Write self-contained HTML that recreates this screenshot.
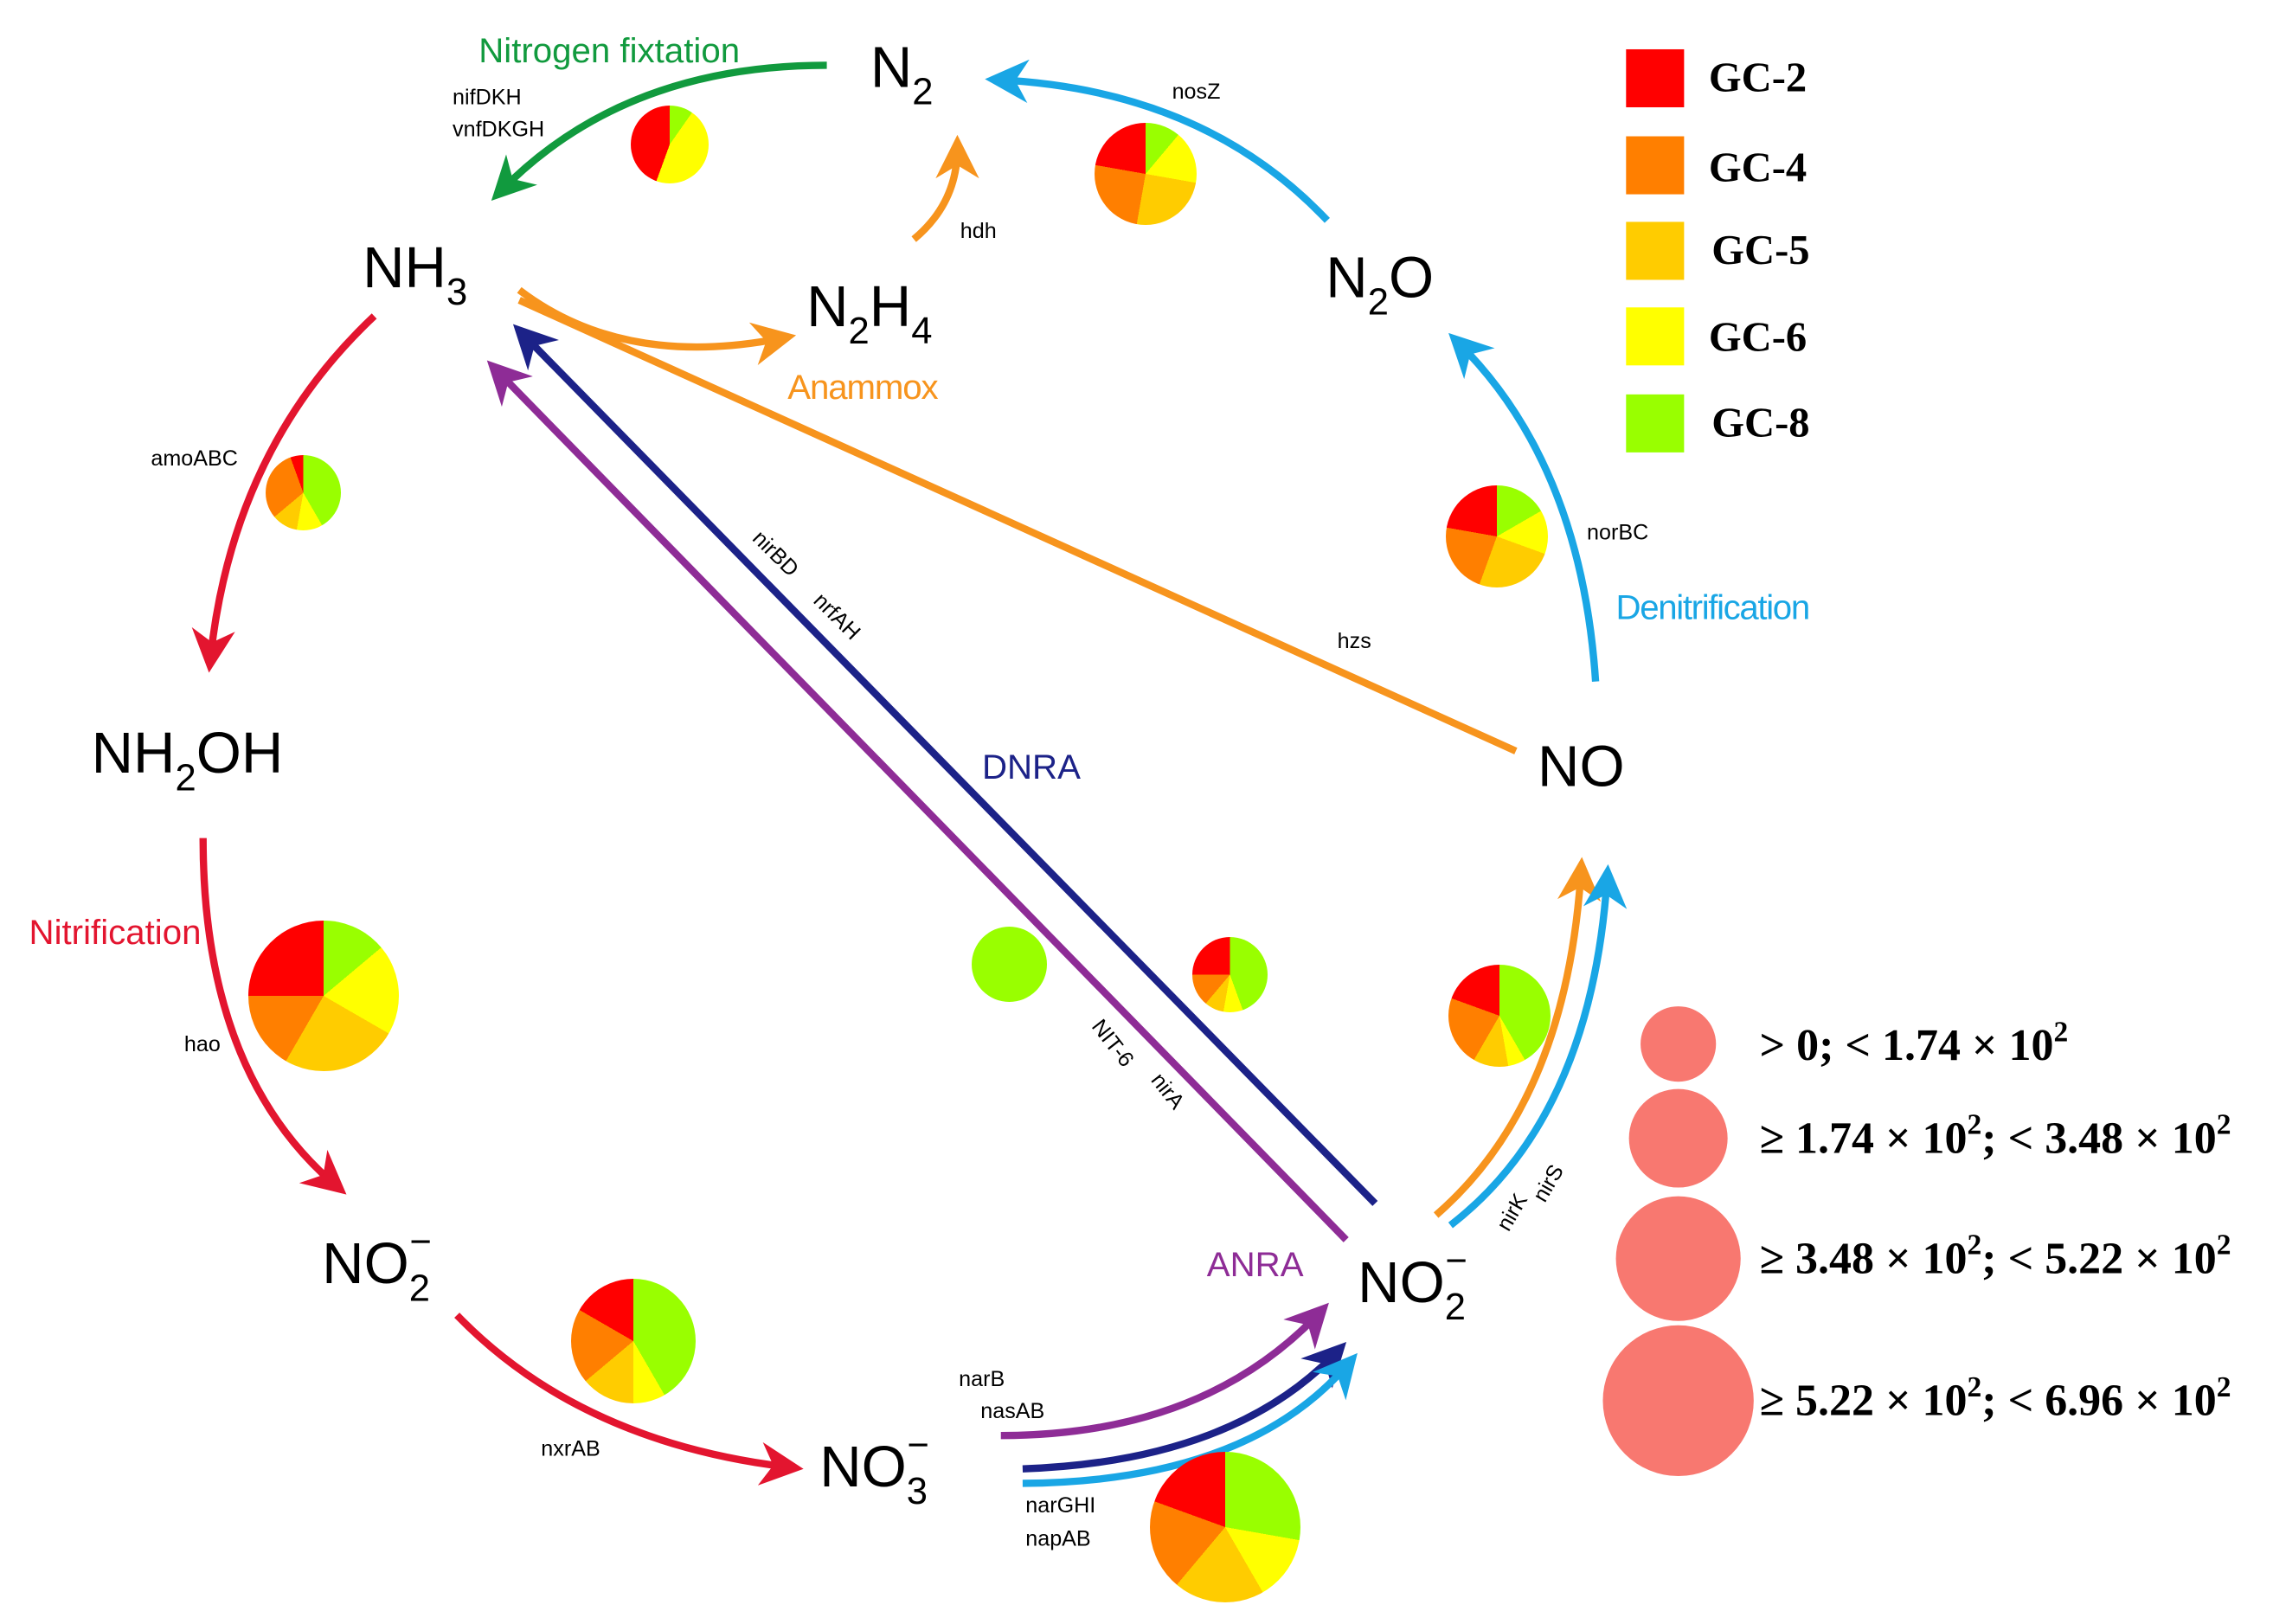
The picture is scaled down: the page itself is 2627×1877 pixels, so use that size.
<!DOCTYPE html>
<html><head><meta charset="utf-8"><style>
body{margin:0;background:#fff}
#c{position:relative;width:2627px;height:1877px;overflow:hidden;background:#fff}
svg{position:absolute;left:0;top:0}
.p{position:absolute;border-radius:50%}
</style></head><body><div id="c">
<svg width="2627" height="1877" viewBox="0 0 1567 1120" preserveAspectRatio="none" font-family="Liberation Sans, sans-serif">
<defs>
<marker id="mg" viewBox="0 0 10 10" refX="7" refY="5" markerWidth="6" markerHeight="6" orient="auto"><path d="M0,0 L10,5 L0,10 L3,5z" fill="#119a3e"/></marker>
<marker id="mb" viewBox="0 0 10 10" refX="7" refY="5" markerWidth="6" markerHeight="6" orient="auto"><path d="M0,0 L10,5 L0,10 L3,5z" fill="#19a6e5"/></marker>
<marker id="mo" viewBox="0 0 10 10" refX="7" refY="5" markerWidth="6" markerHeight="6" orient="auto"><path d="M0,0 L10,5 L0,10 L3,5z" fill="#f7941d"/></marker>
<marker id="mr" viewBox="0 0 10 10" refX="7" refY="5" markerWidth="6" markerHeight="6" orient="auto"><path d="M0,0 L10,5 L0,10 L3,5z" fill="#e3152f"/></marker>
<marker id="mp" viewBox="0 0 10 10" refX="7" refY="5" markerWidth="6" markerHeight="6" orient="auto"><path d="M0,0 L10,5 L0,10 L3,5z" fill="#8e2c96"/></marker>
<marker id="mn" viewBox="0 0 10 10" refX="7" refY="5" markerWidth="6" markerHeight="6" orient="auto"><path d="M0,0 L10,5 L0,10 L3,5z" fill="#1c2288"/></marker>
</defs>
<g fill="none" stroke-width="5">
<path d="M570,45 Q430,45 345,132" stroke="#119a3e" marker-end="url(#mg)"/>
<path d="M915,152 Q830,62 688,55" stroke="#19a6e5" marker-end="url(#mb)"/>
<path d="M630,165 Q660,140 660,102" stroke="#f7941d" marker-end="url(#mo)"/>
<path d="M358,200 Q430,255 540,233" stroke="#f7941d" marker-end="url(#mo)"/>
<path d="M358,207 L1045,518" stroke="#f7941d"/>
<path d="M1100,470 Q1090,320 1005,236" stroke="#19a6e5" marker-end="url(#mb)"/>
<path d="M258,218 Q160,310 145,455" stroke="#e3152f" marker-end="url(#mr)"/>
<path d="M140,578 Q140,740 232,818" stroke="#e3152f" marker-end="url(#mr)"/>
<path d="M315,907 Q400,995 545,1012" stroke="#e3152f" marker-end="url(#mr)"/>
<path d="M690,990 Q830,990 910,905" stroke="#8e2c96" marker-end="url(#mp)"/>
<path d="M705,1013 Q850,1008 922,932" stroke="#1c2288" marker-end="url(#mn)"/>
<path d="M705,1023 Q860,1022 930,940" stroke="#19a6e5" marker-end="url(#mb)"/>
<path d="M990,838 Q1080,760 1090,600" stroke="#f7941d" marker-end="url(#mo)"/>
<path d="M1000,845 Q1097,770 1108,605" stroke="#19a6e5" marker-end="url(#mb)"/>
<path d="M948,830 L360,230" stroke="#1c2288" marker-end="url(#mn)"/>
<path d="M928,855 L342,255" stroke="#8e2c96" marker-end="url(#mp)"/>
</g>
<g font-size="40" fill="#000">
<text x="600" y="60">N<tspan font-size="26" dy="12">2</tspan></text>
<text x="250" y="198">NH<tspan font-size="26" dy="12">3</tspan></text>
<text x="556" y="225">N<tspan font-size="26" dy="12">2</tspan><tspan dy="-12">H</tspan><tspan font-size="26" dy="12">4</tspan></text>
<text x="914" y="205">N<tspan font-size="26" dy="12">2</tspan><tspan dy="-12">O</tspan></text>
<text x="63" y="533">NH<tspan font-size="26" dy="12">2</tspan><tspan dy="-12">OH</tspan></text>
<text x="1060" y="542">NO</text>
<text x="222" y="885">NO<tspan font-size="26" dy="12">2</tspan><tspan font-size="26" dx="-14" dy="-32">−</tspan></text>
<text x="936" y="898">NO<tspan font-size="26" dy="12">2</tspan><tspan font-size="26" dx="-14" dy="-32">−</tspan></text>
<text x="565" y="1025">NO<tspan font-size="26" dy="12">3</tspan><tspan font-size="26" dx="-14" dy="-32">−</tspan></text>
</g>
<g font-size="24">
<text x="330" y="43" fill="#119a3e">Nitrogen fixtation</text>
<text x="543" y="275" fill="#f7941d" textLength="104">Anammox</text>
<text x="1114" y="427" fill="#19a6e5" textLength="134">Denitrification</text>
<text x="20" y="651" fill="#e3152f">Nitrification</text>
<text x="677" y="537" fill="#1c2288">DNRA</text>
<text x="832" y="880" fill="#8e2c96">ANRA</text>
</g>
<g font-size="15" fill="#000">
<text x="312" y="72">nifDKH</text><text x="312" y="94">vnfDKGH</text>
<text x="808" y="68">nosZ</text><text x="662" y="164">hdh</text>
<text x="104" y="321">amoABC</text><text x="1094" y="372">norBC</text>
<text x="922" y="447">hzs</text><text x="127" y="725">hao</text>
<text x="373" y="1004">nxrAB</text>
<text x="661" y="956">narB</text><text x="676" y="978">nasAB</text>
<text x="707" y="1043">narGHI</text><text x="707" y="1066">napAB</text>
<text transform="translate(518,372) rotate(45)">nirBD</text>
<text transform="translate(560,415) rotate(45)">nrfAH</text>
<text transform="translate(752,708) rotate(52)">NIT-6</text>
<text transform="translate(793,745) rotate(52)">nirA</text>
<text transform="translate(1040,850) rotate(-60)">nirK</text>
<text transform="translate(1065,830) rotate(-60)">nirS</text>
</g>
<rect x="1121" y="34" width="40" height="40" fill="#ff0000"/>
<rect x="1121" y="94" width="40" height="40" fill="#ff7f00"/>
<rect x="1121" y="153" width="40" height="40" fill="#ffcc00"/>
<rect x="1121" y="212" width="40" height="40" fill="#ffff00"/>
<rect x="1121" y="272" width="40" height="40" fill="#99ff00"/>
<g font-family="Liberation Serif, serif" font-weight="bold" font-size="29">
<text x="1178" y="63">GC-2</text><text x="1178" y="125">GC-4</text><text x="1180" y="182">GC-5</text><text x="1178" y="242">GC-6</text><text x="1180" y="301">GC-8</text>
</g>
<g fill="#f87870"><circle cx="1157" cy="720" r="26"/><circle cx="1157" cy="785" r="34"/><circle cx="1157" cy="868" r="43"/><circle cx="1157" cy="966" r="52"/></g>
<g font-family="Liberation Serif, serif" font-weight="bold" font-size="31">
<text x="1213" y="731">&gt; 0; &lt; 1.74 × 10<tspan font-size="20" dy="-13">2</tspan></text>
<text x="1213" y="795">≥ 1.74 × 10<tspan font-size="20" dy="-13">2</tspan><tspan dy="13">; &lt; 3.48 × 10</tspan><tspan font-size="20" dy="-13">2</tspan></text>
<text x="1213" y="878">≥ 3.48 × 10<tspan font-size="20" dy="-13">2</tspan><tspan dy="13">; &lt; 5.22 × 10</tspan><tspan font-size="20" dy="-13">2</tspan></text>
<text x="1213" y="976">≥ 5.22 × 10<tspan font-size="20" dy="-13">2</tspan><tspan dy="13">; &lt; 6.96 × 10</tspan><tspan font-size="20" dy="-13">2</tspan></text>
</g>
</svg>
<div class="p" style="left:729px;top:122px;width:90px;height:90px;background:conic-gradient(#99ff00 0 35deg,#ffff00 35deg 200deg,#ff0000 200deg 360deg)"></div>
<div class="p" style="left:1265px;top:142px;width:118px;height:118px;background:conic-gradient(#99ff00 0 40deg,#ffff00 40deg 100deg,#ffcc00 100deg 190deg,#ff7f00 190deg 280deg,#ff0000 280deg 360deg)"></div>
<div class="p" style="left:307px;top:526px;width:87px;height:87px;background:conic-gradient(#99ff00 0 150deg,#ffff00 150deg 190deg,#ffcc00 190deg 230deg,#ff7f00 230deg 340deg,#ff0000 340deg 360deg)"></div>
<div class="p" style="left:1671px;top:561px;width:118px;height:118px;background:conic-gradient(#99ff00 0 60deg,#ffff00 60deg 110deg,#ffcc00 110deg 200deg,#ff7f00 200deg 280deg,#ff0000 280deg 360deg)"></div>
<div class="p" style="left:287px;top:1064px;width:174px;height:174px;background:conic-gradient(#99ff00 0 50deg,#ffff00 50deg 120deg,#ffcc00 120deg 210deg,#ff7f00 210deg 270deg,#ff0000 270deg 360deg)"></div>
<div class="p" style="left:1123px;top:1071px;width:87px;height:87px;background:#99ff00"></div>
<div class="p" style="left:1378px;top:1083px;width:87px;height:87px;background:conic-gradient(#99ff00 0 160deg,#ffff00 160deg 190deg,#ffcc00 190deg 220deg,#ff7f00 220deg 270deg,#ff0000 270deg 360deg)"></div>
<div class="p" style="left:1674px;top:1115px;width:118px;height:118px;background:conic-gradient(#99ff00 0 150deg,#ffff00 150deg 170deg,#ffcc00 170deg 210deg,#ff7f00 210deg 290deg,#ff0000 290deg 360deg)"></div>
<div class="p" style="left:660px;top:1478px;width:144px;height:144px;background:conic-gradient(#99ff00 0 150deg,#ffff00 150deg 180deg,#ffcc00 180deg 230deg,#ff7f00 230deg 300deg,#ff0000 300deg 360deg)"></div>
<div class="p" style="left:1329px;top:1678px;width:174px;height:174px;background:conic-gradient(#99ff00 0 100deg,#ffff00 100deg 150deg,#ffcc00 150deg 220deg,#ff7f00 220deg 290deg,#ff0000 290deg 360deg)"></div>
</div></body></html>
